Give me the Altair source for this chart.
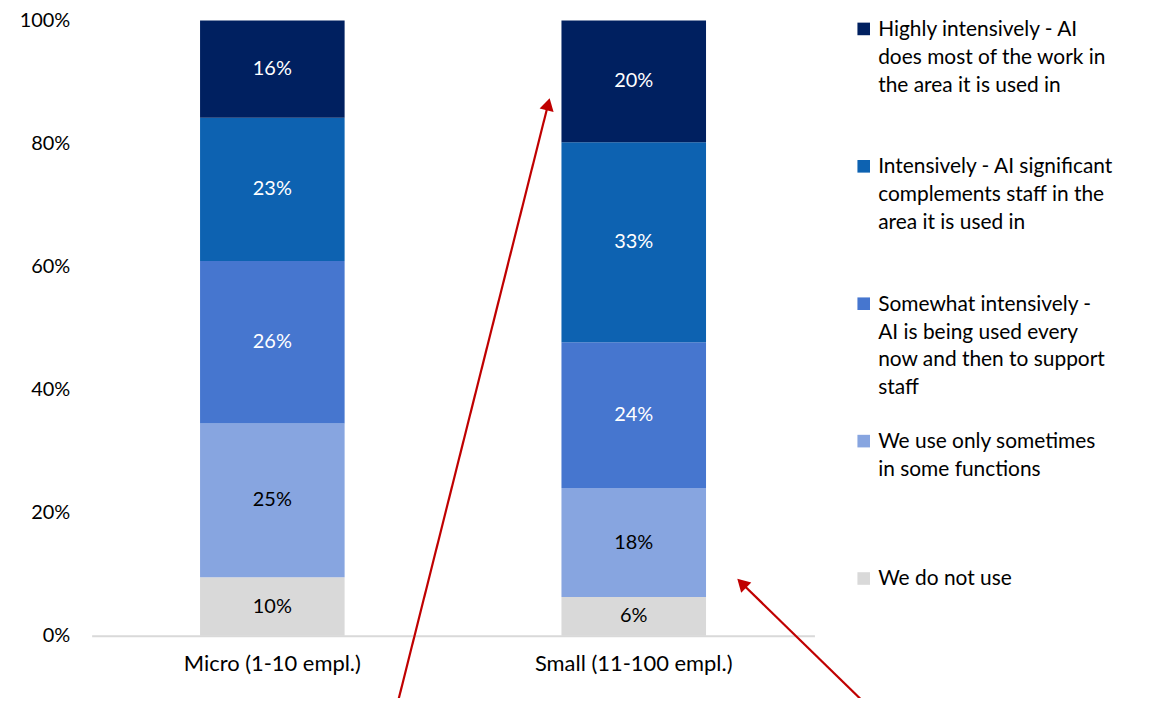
import altair as alt
import pandas as pd

categories = ["Micro (1-10 empl.)", "Small (11-100 empl.)"]
series = [
    "We do not use",
    "We use only sometimes|in some functions",
    "Somewhat intensively -|AI is being used every|now and then to support|staff",
    "Intensively - AI significant|complements staff in the|area it is used in",
    "Highly intensively - AI|does most of the work in|the area it is used in",
]
micro_values = [9.5, 25, 26.4, 23.3, 15.8]
small_values = [6.3, 17.7, 23.7, 32.5, 19.8]
micro_labels = ["10%", "25%", "26%", "23%", "16%"]
small_labels = ["6%", "18%", "24%", "33%", "20%"]
colors = ["#D9D9D9", "#87A5E0", "#4676CF", "#0D62B1", "#002060"]
label_colors = ["#000000", "#000000", "#FFFFFF", "#FFFFFF", "#FFFFFF"]

rows = []
for cat, vals, labs in [(categories[0], micro_values, micro_labels),
                        (categories[1], small_values, small_labels)]:
    for i, (s, v, l) in enumerate(zip(series, vals, labs)):
        rows.append({"category": cat, "series": s, "value": v, "label": l,
                     "order": i})
df = pd.DataFrame(rows)

FONT = "Lato"
DY = -10

base = alt.Chart(df).transform_joinaggregate(
    total="sum(value)", groupby=["category"]
).transform_calculate(
    pct="datum.value / datum.total"
).transform_stack(
    stack="pct", groupby=["category"], as_=["y0", "y1"],
    sort=[alt.SortField("order", order="ascending")]
).transform_calculate(
    mid="(datum.y0 + datum.y1) / 2"
)

x_enc = alt.X("category:N", sort=categories, title=None,
              scale=alt.Scale(paddingInner=0.6, paddingOuter=0.3),
              axis=alt.Axis(labelAngle=0, labelFontSize=22, labelFont=FONT,
                            labelColor="#000000", labelPadding=18 - DY,
                            labelLimit=400, ticks=False,
                            domainColor="#D9D9D9", domainWidth=2))

bars = base.mark_bar().encode(
    x=x_enc,
    y=alt.Y("y0:Q", title=None, scale=alt.Scale(domain=[0, 1]),
            axis=alt.Axis(format=".0%", values=[0, 0.2, 0.4, 0.6, 0.8, 1.0],
                          labelFontSize=20, labelFont=FONT, labelColor="#000000",
                          labelPadding=22, labelOffset=-DY, ticks=False,
                          domain=False, grid=False)),
    y2="y1:Q",
    color=alt.Color("series:N",
                    scale=alt.Scale(domain=series[::-1], range=colors[::-1]),
                    legend=alt.Legend(
                        title=None, orient="none", legendX=765, legendY=-2,
                        symbolType="square", symbolSize=160, symbolStrokeWidth=0,
                        labelFont=FONT, labelFontSize=21, labelColor="#000000",
                        labelLimit=400, labelOffset=4, labelBaseline="top",
                        labelExpr="split(datum.label, '|')",
                        rowPadding=32, gridAlign="all", padding=0)),
    order=alt.Order("order:Q"),
)

texts = base.mark_text(font=FONT, fontSize=20).encode(
    x=alt.X("category:N", sort=categories),
    y="mid:Q",
    text="label:N",
    color=alt.Color("series:N", scale=alt.Scale(domain=series, range=label_colors),
                    legend=None),
)

# annotation arrows (screen positions relative to plot origin)
arrow_lines = pd.DataFrame({
    "x": [308, 780], "y": [683, 689], "x2": [458.5, 653], "y2": [84.1, 565.2],
})
arrow_heads = pd.DataFrame({
    "x": [458.5, 653], "y": [84.1, 565.2], "angle": [14.1, 314.4],
})

lines = alt.Chart(arrow_lines).mark_rule(color="#C00000", strokeWidth=2.2).encode(
    x=alt.X("x:Q", scale=None), y=alt.Y("y:Q", scale=None),
    x2="x2:Q", y2="y2:Q",
)
heads = alt.Chart(arrow_heads).mark_point(
    shape="triangle-up", filled=True, color="#C00000", opacity=1, size=210
).encode(
    x=alt.X("x:Q", scale=None), y=alt.Y("y:Q", scale=None),
    angle=alt.Angle("angle:Q", scale=None),
)

chart = alt.layer(bars, texts, lines, heads).resolve_scale(
    color="independent"
).properties(
    width=726, height=618,
    autosize=alt.AutoSizeParams(type="none"),
    padding={"left": 84, "top": 11, "right": 330, "bottom": 61},
).configure(
    view={"strokeWidth": 0},
    style={"guide-label": {"lineHeight": 28, "dy": DY}},
)

chart.save("out.html", embed_options={"renderer": "svg", "actions": False})
